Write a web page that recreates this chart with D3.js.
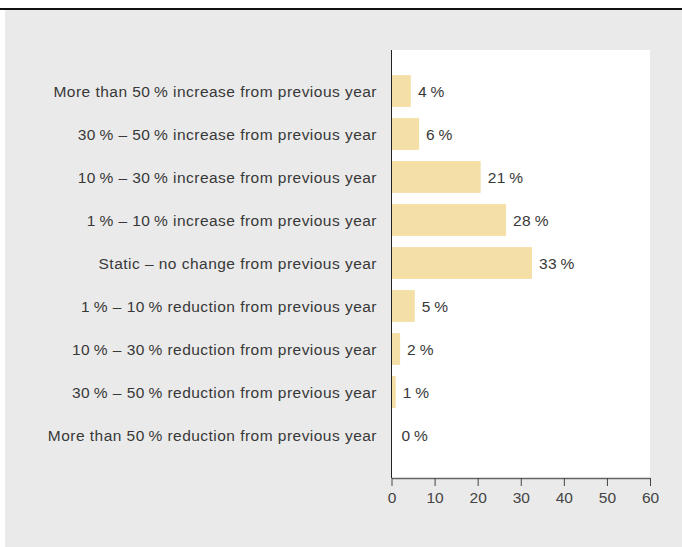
<!DOCTYPE html>
<html>
<head>
<meta charset="utf-8">
<script src="https://cdn.jsdelivr.net/npm/d3@7"></script>
<style>
  body { margin: 0; background: #fff; }
  text { font-family: "Liberation Sans", Arial, sans-serif; }
</style>
</head>
<body>
<div id="chart"></div>
<script>
// categories, top to bottom
var categories = [
  "More than 50\u2009% increase from previous year",
  "30\u2009% \u2013 50\u2009% increase from previous year",
  "10\u2009% \u2013 30\u2009% increase from previous year",
  "1\u2009% \u2013 10\u2009% increase from previous year",
  "Static \u2013 no change from previous year",
  "1\u2009% \u2013 10\u2009% reduction from previous year",
  "10\u2009% \u2013 30\u2009% reduction from previous year",
  "30\u2009% \u2013 50\u2009% reduction from previous year",
  "More than 50\u2009% reduction from previous year"
];
// bar lengths
var values = [4.5, 6.4, 20.7, 26.6, 32.6, 5.4, 2.0, 1.0, 0];
// printed value labels
var valueLabels = ["4\u2009%", "6\u2009%", "21\u2009%", "28\u2009%", "33\u2009%", "5\u2009%", "2\u2009%", "1\u2009%", "0\u2009%"];
var xTicks = [0, 10, 20, 30, 40, 50, 60];

var width = 682, height = 547;

var svg = d3.select("#chart").append("svg")
  .attr("width", width)
  .attr("height", height);

// top rule + grey panel
svg.append("rect").attr("x", 0).attr("y", 8).attr("width", width).attr("height", 2).attr("fill", "#111");
svg.append("rect").attr("x", 5).attr("y", 10).attr("width", width - 5).attr("height", height - 10).attr("fill", "#eaeaea");

var x = d3.scaleLinear().domain([0, 60]).range([391.5, 650]);
var y = d3.scaleBand().domain(categories).range([69.5, 456.5]).paddingInner(0.26).paddingOuter(0.13);

// white plot area
svg.append("rect")
  .attr("x", x(0)).attr("y", 50)
  .attr("width", x(60) - x(0)).attr("height", 478 - 50)
  .attr("fill", "#fff");

svg.selectAll(".bar")
  .data(values)
  .enter().append("rect")
  .attr("class", "bar")
  .attr("x", x(0))
  .attr("y", (d, i) => y(categories[i]))
  .attr("width", d => x(d) - x(0))
  .attr("height", y.bandwidth())
  .attr("fill", "#f4e0a7");

svg.selectAll(".vlabel")
  .data(values)
  .enter().append("text")
  .attr("class", "vlabel")
  .attr("x", d => Math.max(x(d), x(0) + 3) + 7)
  .attr("y", (d, i) => y(categories[i]) + y.bandwidth() / 2)
  .attr("dy", "0.36em")
  .attr("font-size", "15.5px")
  .attr("letter-spacing", "0.4px")
  .attr("fill", "#383838")
  .text((d, i) => valueLabels[i]);

svg.selectAll(".clabel")
  .data(categories)
  .enter().append("text")
  .attr("class", "clabel")
  .attr("x", 377)
  .attr("y", d => y(d) + y.bandwidth() / 2)
  .attr("dy", "0.36em")
  .attr("text-anchor", "end")
  .attr("font-size", "15.5px")
  .attr("letter-spacing", "0.47px")
  .attr("fill", "#383838")
  .text(d => d);

// y axis line
svg.append("line")
  .attr("x1", x(0)).attr("x2", x(0))
  .attr("y1", 50).attr("y2", 478)
  .attr("stroke", "#222").attr("stroke-width", 1);

// x axis
var xAxis = d3.axisBottom(x).tickValues(xTicks).tickSize(8).tickSizeOuter(0);
var gx = svg.append("g")
  .attr("transform", "translate(0,478)")
  .call(xAxis);
gx.select(".domain").attr("stroke", "#666").attr("stroke-width", 1.5);
gx.selectAll(".tick line").attr("stroke", "#444");
gx.selectAll(".tick text")
  .attr("font-family", "Liberation Sans, Arial, sans-serif")
  .attr("font-size", "15.5px")
  .attr("fill", "#444")
  .attr("y", 14);
</script>
</body>
</html>
